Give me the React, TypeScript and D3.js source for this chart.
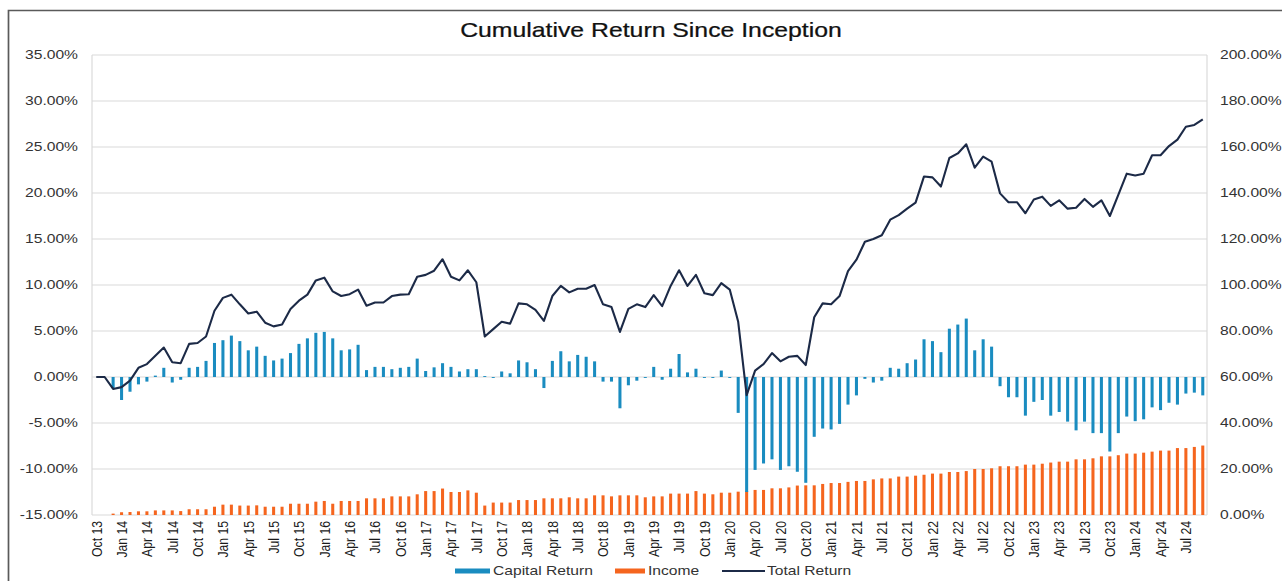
import React from "react";
import * as d3 from "d3";

const W = 1282;
const H = 581;
const margin = { top: 55, right: 75, bottom: 66, left: 92 };
const innerRight = W - margin.right;
const innerBottom = H - margin.bottom;

// monthly categories Oct 13 .. Sep 24
const months = d3.timeMonth.range(new Date(2013, 9, 1), new Date(2024, 9, 1));
const categories = months.map(d3.timeFormat("%b %y"));

const tickLabels = [
  "Oct 13", "Jan 14", "Apr 14", "Jul 14", "Oct 14", "Jan 15", "Apr 15", "Jul 15",
  "Oct 15", "Jan 16", "Apr 16", "Jul 16", "Oct 16", "Jan 17", "Apr 17", "Jul 17",
  "Oct 17", "Jan 18", "Apr 18", "Jul 18", "Oct 18", "Jan 19", "Apr 19", "Jul 19",
  "Oct 19", "Jan 20", "Apr 20", "Jul 20", "Oct 20", "Jan 21", "Apr 21", "Jul 21",
  "Oct 21", "Jan 22", "Apr 22", "Jul 22", "Oct 22", "Jan 23", "Apr 23", "Jul 23",
  "Oct 23", "Jan 24", "Apr 24", "Jul 24",
];

// left axis (%)
const capitalReturn = [
  0, 0, -1.2, -2.5, -1.6, -0.8, -0.5, 0.15, 1.0, -0.6, -0.3, 1.0,
  1.1, 1.75, 3.7, 4.0, 4.5, 3.9, 2.9, 3.3, 2.3, 1.8, 2.0, 2.6,
  3.6, 4.2, 4.8, 4.9, 4.2, 2.9, 3.0, 3.5, 0.75, 1.1, 1.1, 0.85,
  1.0, 1.1, 2.0, 0.65, 1.05, 1.5, 1.1, 0.6, 0.85, 0.85, 0.1, -0.1,
  0.6, 0.4, 1.8, 1.6, 0.85, -1.2, 1.75, 2.8, 1.7, 2.4, 2.2, 1.7,
  -0.5, -0.5, -3.4, -0.9, -0.4, -0.1, 1.1, -0.3, 0.9, 2.5, 0.5, 0.9,
  -0.1, -0.1, 0.7, -0.1, -3.9, -12.5, -10.1, -9.4, -8.95, -10.1, -9.7, -10.3,
  -11.5, -6.5, -5.6, -5.7, -5.1, -3.0, -2.0, -0.2, -0.6, -0.4, 1.0, 0.9,
  1.5, 1.9, 4.1, 3.9, 2.7, 5.25, 5.7, 6.35, 2.9, 4.1, 3.3, -1.0,
  -2.2, -2.2, -4.2, -2.7, -2.5, -4.2, -3.8, -4.85, -5.8, -4.85, -6.1, -6.1,
  -8.1, -6.1, -4.3, -4.8, -4.6, -3.3, -3.6, -2.8, -3.0, -1.8, -1.7, -2.0,
];

// right axis (%)
const income = [
  0, 0, 0.6, 1.2, 1.3, 1.6, 1.6, 2.0, 2.0, 2.0, 1.7, 2.5,
  2.5, 2.5, 3.6, 4.5, 4.5, 4.1, 4.1, 4.2, 3.6, 3.6, 3.6, 4.9,
  4.9, 4.9, 5.8, 6.1, 4.9, 6.1, 6.1, 6.1, 7.25, 7.25, 7.25, 8.1,
  8.1, 8.1, 9.0, 10.4, 10.4, 11.5, 10.0, 10.0, 10.7, 9.7, 4.1, 5.4,
  5.4, 5.4, 6.5, 6.5, 6.5, 7.25, 7.25, 7.25, 7.7, 7.25, 7.25, 8.55,
  8.55, 8.1, 8.55, 8.55, 8.55, 7.7, 8.1, 8.1, 9.3, 9.3, 9.3, 10.4,
  9.3, 9.0, 9.7, 9.7, 10.15, 10.4, 10.9, 10.9, 11.6, 11.6, 12.0, 12.8,
  12.9, 12.9, 13.5, 13.9, 13.9, 14.4, 14.8, 14.8, 15.5, 15.9, 15.9, 16.7,
  16.7, 17.1, 17.5, 18.0, 18.0, 18.7, 18.7, 19.1, 20.0, 20.0, 20.3, 21.2,
  21.2, 21.2, 21.9, 21.9, 22.3, 22.8, 23.2, 23.2, 24.2, 24.2, 24.65, 25.5,
  25.5, 26.0, 26.7, 26.7, 27.1, 27.55, 28.0, 28.0, 29.1, 29.1, 29.6, 30.2,
];

// left axis (%)
const totalReturn = [
  0, 0, -1.3, -1.1, -0.4, 1.0, 1.4, 2.3, 3.2, 1.6, 1.5, 3.6,
  3.7, 4.4, 7.2, 8.6, 8.95, 7.9, 6.9, 7.1, 5.9, 5.5, 5.7, 7.4,
  8.3, 8.95, 10.5, 10.8, 9.3, 8.8, 9.0, 9.5, 7.75, 8.1, 8.1, 8.8,
  8.95, 9.0, 10.9, 11.1, 11.55, 12.8, 10.9, 10.5, 11.6, 10.3, 4.4, 5.2,
  6.0, 5.8, 8.0, 7.9, 7.3, 6.1, 8.8, 9.9, 9.2, 9.6, 9.6, 10.0,
  7.9, 7.6, 4.9, 7.4, 7.9, 7.6, 8.9, 7.7, 9.9, 11.6, 9.9, 11.1,
  9.1, 8.9, 10.2, 9.5, 6.0, -1.97, 0.7, 1.4, 2.6, 1.7, 2.2, 2.3,
  1.3, 6.5, 8.0, 7.9, 8.8, 11.5, 12.75, 14.7, 15.0, 15.4, 17.1, 17.6,
  18.3, 18.95, 21.8, 21.7, 20.7, 23.8, 24.3, 25.3, 22.75, 23.95, 23.4, 19.96,
  19.0, 19.0, 17.8, 19.3, 19.6, 18.6, 19.2, 18.3, 18.4, 19.35, 18.5, 19.2,
  17.5, 19.8, 22.1, 21.9, 22.1, 24.1, 24.1, 25.1, 25.8, 27.2, 27.4, 28.0,
];

const leftTicks = [-15, -10, -5, 0, 5, 10, 15, 20, 25, 30, 35];
const rightTicks = [0, 20, 40, 60, 80, 100, 120, 140, 160, 180, 200];

const BLUE = "#1a8cc0";
const ORANGE = "#f5651e";
const NAVY = "#1c2a47";
const LABEL = "#333333";
const GRID = "#dadada";
const SX = 1.24; // horizontal stretch of the source text

const fmt = (v: number) => v.toFixed(2) + "%";

const App = () => {
  const x = d3
    .scaleBand<string>()
    .domain(categories)
    .range([margin.left, innerRight])
    .paddingInner(0.64)
    .paddingOuter(0.32);
  const yL = d3.scaleLinear().domain([-15, 35]).range([innerBottom, margin.top]);
  const yR = d3.scaleLinear().domain([0, 200]).range([innerBottom, margin.top]);
  const bw = x.bandwidth();
  const cx = (c: string) => (x(c) as number) + bw / 2;

  const line = d3
    .line<number>()
    .x((_, i) => cx(categories[i]))
    .y((d) => yL(d));

  const legendY = 571;

  return (
    <svg
      width={W}
      height={H}
      style={{ position: "absolute", left: 0, top: 0, background: "#fff" }}
      fontFamily="'Liberation Sans', Arial, sans-serif"
    >
      <rect width={W} height={H} fill="#fff" />
      <path d={`M8.5,${H} V10.5 H${W}`} fill="none" stroke="#5a5a5a" strokeWidth={1.7} />

      <text
        transform={`translate(651,37) scale(${SX},1)`}
        textAnchor="middle"
        fontSize={20}
        fill="#111"
        stroke="#111"
        strokeWidth={0.25}
      >
        Cumulative Return Since Inception
      </text>

      {leftTicks.map((t) => (
        <line key={"g" + t} x1={margin.left} x2={innerRight} y1={yL(t)} y2={yL(t)} stroke={GRID} strokeWidth={1.2} />
      ))}
      <line x1={margin.left} x2={margin.left} y1={margin.top} y2={innerBottom} stroke={GRID} strokeWidth={1.2} />
      <line x1={innerRight} x2={innerRight} y1={margin.top} y2={innerBottom} stroke={GRID} strokeWidth={1.2} />

      {income.map((v, i) => (
        <rect
          key={"inc" + i}
          x={x(categories[i])}
          width={bw}
          y={yR(v)}
          height={yR(0) - yR(v)}
          fill={ORANGE}
        />
      ))}

      {capitalReturn.map((v, i) => (
        <rect
          key={"cap" + i}
          x={x(categories[i])}
          width={bw}
          y={Math.min(yL(0), yL(v))}
          height={Math.abs(yL(v) - yL(0))}
          fill={BLUE}
        />
      ))}

      <path d={line(totalReturn) || ""} fill="none" stroke={NAVY} strokeWidth={2.1} strokeLinejoin="round" />

      {leftTicks.map((t) => (
        <text
          key={"l" + t}
          transform={`translate(78,${yL(t)}) scale(${SX},1)`}
          textAnchor="end"
          dy="0.35em"
          fontSize={12.6}
          fill={LABEL}
        >
          {fmt(t)}
        </text>
      ))}

      {rightTicks.map((t) => (
        <text
          key={"r" + t}
          transform={`translate(1220,${yR(t)}) scale(${SX},1)`}
          textAnchor="start"
          dy="0.35em"
          fontSize={12.6}
          fill={LABEL}
        >
          {fmt(t)}
        </text>
      ))}

      {tickLabels.map((lab) => (
        <text
          key={"x" + lab}
          transform={`translate(${cx(lab)},521) rotate(-90) scale(1,${SX})`}
          textAnchor="end"
          dy="0.35em"
          fontSize={12.2}
          fill="#1a1a1a"
        >
          {lab}
        </text>
      ))}

      <rect x={455} y={legendY - 2.5} width={35} height={5} fill={BLUE} />
      <text transform={`translate(493,${legendY}) scale(${SX},1)`} dy="0.35em" fontSize={12.6} fill={LABEL}>
        Capital Return
      </text>
      <rect x={615} y={legendY - 2.5} width={30} height={5} fill={ORANGE} />
      <text transform={`translate(648,${legendY}) scale(${SX},1)`} dy="0.35em" fontSize={12.6} fill={LABEL}>
        Income
      </text>
      <line x1={722} x2={765} y1={legendY} y2={legendY} stroke={NAVY} strokeWidth={2} />
      <text transform={`translate(767,${legendY}) scale(${SX},1)`} dy="0.35em" fontSize={12.6} fill={LABEL}>
        Total Return
      </text>
    </svg>
  );
};

export default App;
